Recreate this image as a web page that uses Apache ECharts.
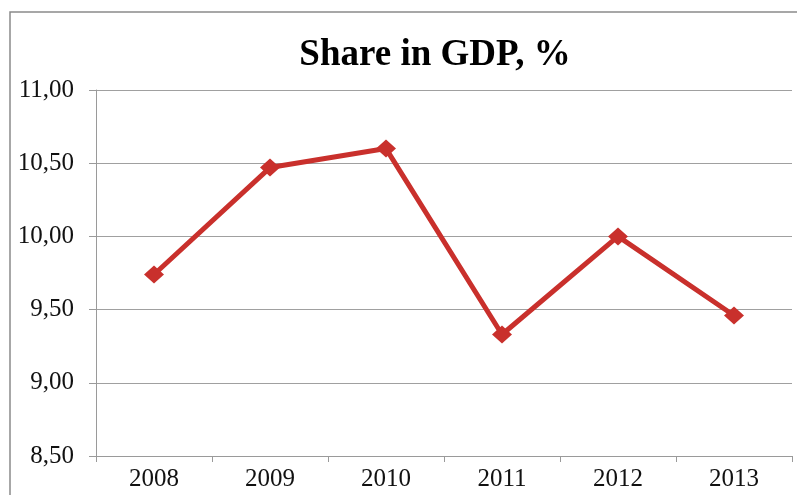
<!DOCTYPE html>
<html>
<head>
<meta charset="utf-8">
<script src="https://cdn.jsdelivr.net/npm/echarts@6/dist/echarts.min.js"></script>
<style>
html,body{margin:0;padding:0;background:#fff;}
#chart{width:797px;height:495px;}
</style>
</head>
<body>
<div id="chart"></div>
<script>
const titleText = "Share in GDP, %";
const categories = ["2008", "2009", "2010", "2011", "2012", "2013"];
const shareValues = [9.74, 10.47, 10.60, 9.33, 10.00, 9.46];
const yMin = 8.5, yMax = 11.0, yStep = 0.5;

const chart = echarts.init(document.getElementById('chart'));
chart.setOption({
  animation: false,
  backgroundColor: '#fff',
  title: {
    text: titleText,
    left: 430,
    textAlign: 'center',
    top: 32,
    textStyle: {
      fontFamily: 'Liberation Serif',
      fontWeight: 'bold',
      fontSize: 37,
      color: '#000'
    }
  },
  graphic: [{
    type: 'rect',
    shape: {x: 10, y: 12, width: 800, height: 500},
    style: {fill: 'none', stroke: '#8a8a8a', lineWidth: 1.5},
    silent: true
  }],
  grid: {left: 96, right: 5, top: 90, bottom: 39},
  xAxis: {
    type: 'category',
    data: categories,
    boundaryGap: true,
    axisLine: {show: true, lineStyle: {color: '#9a9a9a', width: 1}},
    axisTick: {show: true, length: 6, inside: false, lineStyle: {color: '#9a9a9a'}},
    axisLabel: {
      fontFamily: 'Liberation Serif',
      fontSize: 25,
      color: '#111',
      margin: 11
    }
  },
  yAxis: {
    type: 'value',
    min: yMin,
    max: yMax,
    interval: yStep,
    axisLine: {show: true, lineStyle: {color: '#9a9a9a', width: 1}},
    axisTick: {show: true, length: 7, lineStyle: {color: '#9a9a9a'}},
    splitLine: {show: true, lineStyle: {color: '#a0a0a0', width: 1}},
    axisLabel: {
      fontFamily: 'Liberation Serif',
      fontSize: 25,
      color: '#111',
      margin: 22,
      formatter: v => v.toFixed(2).replace('.', ',')
    }
  },
  series: [{
    type: 'line',
    data: shareValues,
    symbol: 'diamond',
    symbolSize: [20, 18],
    lineStyle: {color: '#c9302c', width: 5},
    itemStyle: {color: '#c9302c'}
  }]
});
</script>
</body>
</html>
